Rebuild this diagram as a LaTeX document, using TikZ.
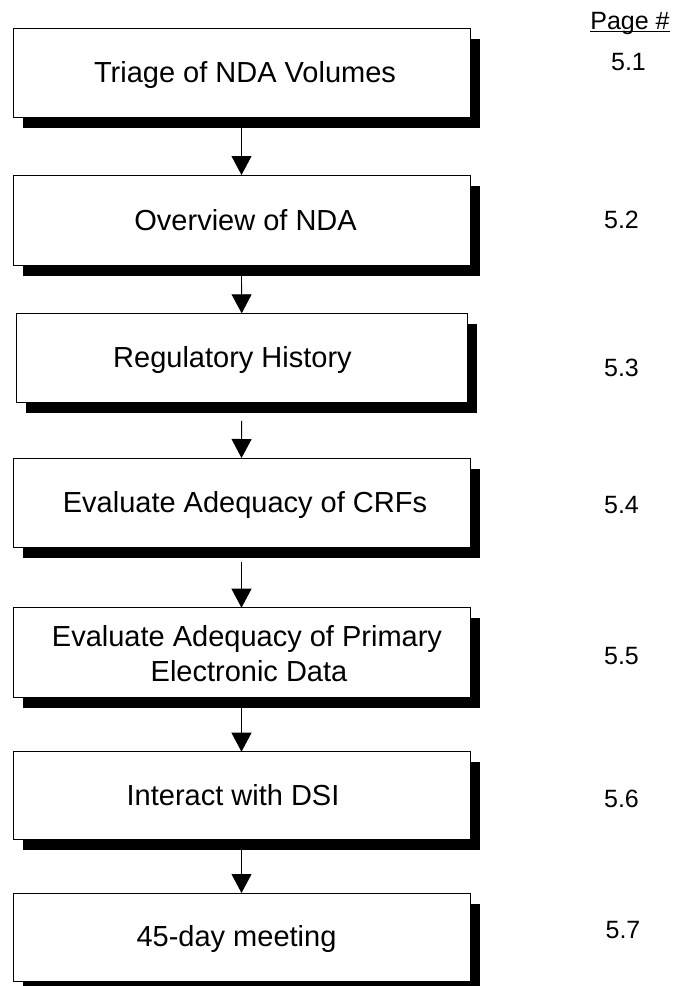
\documentclass[tikz,border=0pt]{standalone}
\usepackage{fontspec}
\setmainfont{Liberation Sans}
\usetikzlibrary{arrows.meta}
\begin{document}
\begin{tikzpicture}[x=1pt,y=-1pt,
  stepbox/.style={draw=black, line width=0.9pt, fill=white, inner sep=0pt, outer sep=0pt},
  shade/.style={fill=black, draw=none, inner sep=0pt, outer sep=0pt},
  boxtext/.style={font=\fontsize{29}{34}\selectfont, anchor=base, inner sep=0pt},
  pnum/.style={font=\fontsize{25}{30}\selectfont, anchor=base, inner sep=0pt},
  flow/.style={-{Triangle[width=20pt,length=19pt]}, line width=0.9pt}]
\useasboundingbox (0,0) rectangle (677,986);

% drop shadows (offset down and to the right)
\node[shade, minimum width=457pt, minimum height=89pt]   (s1) at (251.5, 83.5) {};
\node[shade, minimum width=457pt, minimum height=90pt]   (s2) at (251.5,230.7) {};
\node[shade, minimum width=450.6pt, minimum height=89.4pt] (s3) at (251.7,368.7) {};
\node[shade, minimum width=457pt, minimum height=89pt]   (s4) at (251.5,513.2) {};
\node[shade, minimum width=457pt, minimum height=89.6pt] (s5) at (251.5,663.2) {};
\node[shade, minimum width=457pt, minimum height=88pt]   (s6) at (251.5,806.4) {};
\node[shade, minimum width=457pt, minimum height=88pt]   (s7) at (251.5,947.7) {};

% process boxes
\node[stepbox, minimum width=457pt, minimum height=89pt]   (b1) at (241.5, 72.8) {};
\node[stepbox, minimum width=457pt, minimum height=90pt]   (b2) at (241.5,220) {};
\node[stepbox, minimum width=450.6pt, minimum height=89.4pt] (b3) at (241.7,358) {};
\node[stepbox, minimum width=457pt, minimum height=89pt]   (b4) at (241.5,502.5) {};
\node[stepbox, minimum width=457pt, minimum height=89.6pt] (b5) at (241.5,652.5) {};
\node[stepbox, minimum width=457pt, minimum height=88pt]   (b6) at (241.5,795.7) {};
\node[stepbox, minimum width=457pt, minimum height=88pt]   (b7) at (241.5,937) {};

% box labels
\node[boxtext] (t1)  at (245,82.7)   {Triage of NDA Volumes};
\node[boxtext] (t2)  at (245.6,230.7) {Overview of NDA};
\node[boxtext] (t3)  at (232.5,367.3) {Regulatory History};
\node[boxtext] (t4)  at (245,512.7)  {Evaluate Adequacy of CRFs};
\node[boxtext] (t5a) at (247,646.7)  {Evaluate Adequacy of Primary};
\node[boxtext] (t5b) at (249,681)    {Electronic Data};
\node[boxtext] (t6)  at (233,805)    {Interact with DSI};
\node[boxtext] (t7)  at (236.5,946.7) {45-day meeting};

% connectors
\draw[flow] (b1.center |- s1.south) -- (b2.north);
\draw[flow] (b2.center |- s2.south) -- (b3.north);
\draw[flow, shorten <=7.5pt] (b3.center |- s3.south) -- (b4.north);
\draw[flow, shorten <=4pt] (b4.center |- s4.south) -- (b5.north);
\draw[flow] (b5.center |- s5.south) -- (b6.north);
\draw[flow] (b6.center |- s6.south) -- (b7.north);

% page reference column
\node[pnum] (pg) at (630,29.2) {Page \#};
\draw[line width=1.2pt] ([yshift=-2.5pt]pg.base west) -- ([yshift=-2.5pt]pg.base east);
\node[pnum] (p1) at (628.5,70) {5.1};
\node[pnum] (p2) at (621.5,228) {5.2};
\node[pnum] (p3) at (621.5,376) {5.3};
\node[pnum] (p4) at (621.5,513) {5.4};
\node[pnum] (p5) at (621.5,664) {5.5};
\node[pnum] (p6) at (621.5,807) {5.6};
\node[pnum] (p7) at (623,938) {5.7};
\end{tikzpicture}
\end{document}
